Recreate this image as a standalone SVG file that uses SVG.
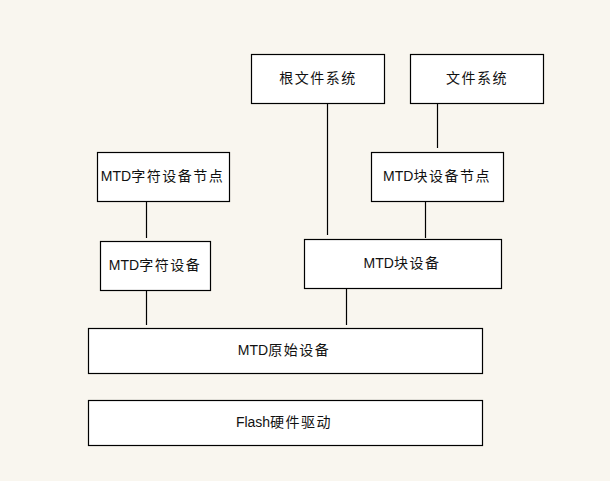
<svg xmlns="http://www.w3.org/2000/svg" width="610" height="481" viewBox="0 0 610 481">
<style>
.box{fill:#ffffff;stroke:#000000;stroke-width:1.2}
.lbl{font-family:"Liberation Sans","Noto Sans CJK SC",sans-serif;font-size:14px;fill:#111111;text-anchor:middle;dominant-baseline:central;letter-spacing:1.5px}
.lat{letter-spacing:0px}
.conn{stroke:#000000;stroke-width:1.2;fill:none}
</style>
<rect x="0" y="0" width="610" height="481" fill="#f9f6ef"/>
<g id="connectors">
<line class="conn" x1="327.5" y1="104" x2="327.5" y2="235"/>
<line class="conn" x1="437.5" y1="104" x2="437.5" y2="148"/>
<line class="conn" x1="425.5" y1="202" x2="425.5" y2="238"/>
<line class="conn" x1="146.5" y1="202" x2="146.5" y2="238"/>
<line class="conn" x1="146.5" y1="291" x2="146.5" y2="325"/>
<line class="conn" x1="346.5" y1="289" x2="346.5" y2="325"/>
</g>
<g id="root-fs">
<rect class="box" x="251.5" y="54.5" width="133" height="49"/>
<text class="lbl" x="318" y="78">根文件系统</text>
</g>
<g id="fs">
<rect class="box" x="410.5" y="54.5" width="133" height="49"/>
<text class="lbl" x="477" y="78">文件系统</text>
</g>
<g id="mtd-char-node">
<rect class="box" x="97.5" y="152.5" width="132" height="49"/>
<text class="lbl" x="162.5" y="176"><tspan class="lat">MTD</tspan>字符设备节点</text>
</g>
<g id="mtd-block-node">
<rect class="box" x="371.5" y="152.5" width="132" height="49"/>
<text class="lbl" x="437" y="176"><tspan class="lat">MTD</tspan>块设备节点</text>
</g>
<g id="mtd-char">
<rect class="box" x="100.5" y="241.5" width="110" height="49"/>
<text class="lbl" x="155" y="265"><tspan class="lat">MTD</tspan>字符设备</text>
</g>
<g id="mtd-block">
<rect class="box" x="304.5" y="239.5" width="197" height="49"/>
<text class="lbl" x="402" y="263"><tspan class="lat">MTD</tspan>块设备</text>
</g>
<g id="mtd-raw">
<rect class="box" x="88.5" y="328.5" width="394" height="45"/>
<text class="lbl" x="284" y="350"><tspan class="lat">MTD</tspan>原始设备</text>
</g>
<g id="flash">
<rect class="box" x="88.5" y="400.5" width="394" height="45"/>
<text class="lbl" x="284" y="422"><tspan class="lat">Flash</tspan>硬件驱动</text>
</g>
</svg>
